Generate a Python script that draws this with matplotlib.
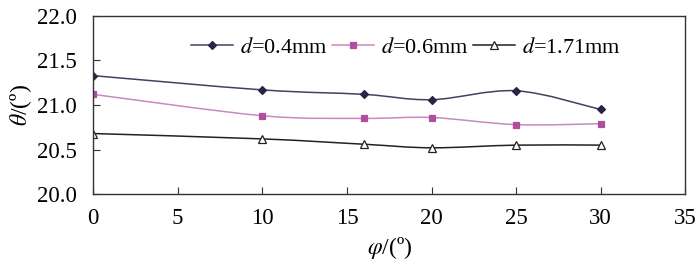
import numpy as np
import matplotlib.pyplot as plt
from matplotlib.path import Path
from matplotlib.patches import PathPatch

phi = [0, 10, 16, 20, 25, 30]
theta_04 = [21.33, 21.17, 21.12, 21.06, 21.16, 20.95]
theta_06 = [21.12, 20.88, 20.85, 20.86, 20.78, 20.79]
theta_171 = [20.68, 20.62, 20.56, 20.52, 20.55, 20.55]
labels = ['0.4mm', '0.6mm', '1.71mm']

plt.rcParams['font.family'] = ['Liberation Serif', 'DejaVu Serif']
plt.rcParams['mathtext.fontset'] = 'stix'


def smooth_path(x, y):
    # Catmull-Rom style bezier, like a spreadsheet "smoothed line"
    pts = np.column_stack([x, y]).astype(float)
    verts = [pts[0]]
    codes = [Path.MOVETO]
    n = len(pts)
    for i in range(n - 1):
        p0 = pts[i - 1] if i > 0 else pts[i]
        p1 = pts[i]
        p2 = pts[i + 1]
        p3 = pts[i + 2] if i + 2 < n else pts[i + 1]
        c1 = p1 + (p2 - p0) / 6
        c2 = p2 - (p3 - p1) / 6
        verts += [c1, c2, p2]
        codes += [Path.CURVE4] * 3
    return Path(verts, codes)


fig = plt.figure(figsize=(7, 2.7), dpi=100)
ax = fig.add_axes([0.133, 0.281, 0.846, 0.660])

series = [
    (theta_04, '#4a3d5e', 'D', '#2e2245', '#2e2245', 4.5),
    (theta_06, '#c98ac0', 's', '#b04fa0', '#b04fa0', 5),
    (theta_171, '#222222', '^', 'white', '#222222', 5.5),
]
for (vals, lc, mk, mfc, mec, ms), lab in zip(series, labels):
    ax.add_patch(PathPatch(smooth_path(phi, vals), fill=False, edgecolor=lc, lw=1.1))
    ax.plot(phi, vals, ls='none', marker=mk, ms=ms, mfc=mfc, mec=mec, mew=0.9)
    ax.plot([], [], color=lc, lw=1.1, marker=mk, ms=ms, mfc=mfc, mec=mec, mew=0.9,
            label='$d$=' + lab)

ax.set_xlim(0, 35)
ax.set_ylim(20.0, 22.0)
ax.set_xticks(range(0, 36, 5))
ax.set_yticks([20.0, 20.5, 21.0, 21.5, 22.0])
ax.set_yticklabels(['20.0', '20.5', '21.0', '21.5', '22.0'])
ax.tick_params(direction='in', length=5, width=0.8, labelsize=16.5, color='#333333')
ax.tick_params(axis='x', pad=10)
ax.tick_params(axis='y', pad=12)
for s in ax.spines.values():
    s.set_color('#333333')
    s.set_linewidth(1.0)

ax.set_xlabel(r'$\varphi$/(º)', fontsize=17, labelpad=4)
ax.set_ylabel(r'$\theta$/(º)', fontsize=17, labelpad=2)

ax.legend(loc='upper left', bbox_to_anchor=(0.15, 0.93), ncol=3, frameon=False,
          fontsize=16, handlelength=1.9, handletextpad=0.3, columnspacing=0.2,
          borderaxespad=0)

fig.savefig('out.png', dpi=100)
